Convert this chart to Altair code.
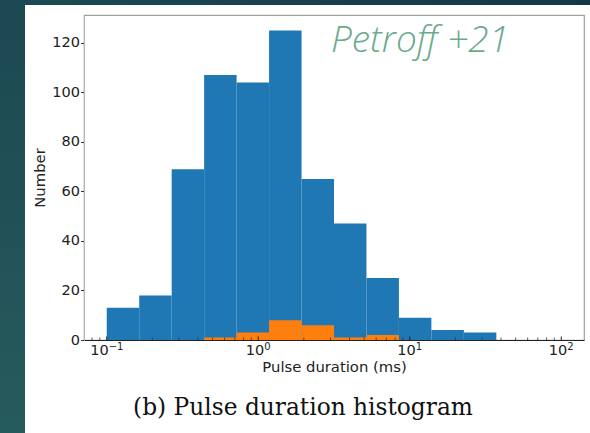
import altair as alt
import pandas as pd

# ---- data ----
edges = [0.1, 0.1638, 0.2683, 0.4394, 0.7197, 1.179, 1.931, 3.162,
         5.179, 8.483, 13.89, 22.76, 37.28, 61.05, 100.0]
blue_counts = [13, 18, 69, 107, 104, 125, 65, 47, 25, 9, 4, 3, 0, 0]
orange_counts = [0, 0, 0, 1, 3, 8, 6, 1, 2, 0, 0, 0, 0, 0]
y_ticks = [0, 20, 40, 60, 80, 100, 120]
major_x = [0.1, 1, 10, 100]
major_exp = ["−1", "0", "1", "2"]
minor_x = [0.08, 0.09,
           0.2, 0.3, 0.4, 0.5, 0.6, 0.7, 0.8, 0.9,
           2, 3, 4, 5, 6, 7, 8, 9,
           20, 30, 40, 50, 60, 70, 80, 90]
title_text = "(b) Pulse duration histogram"
note_text = "Petroff +21"

W, H = 500, 325
LABEL_FONT = "DejaVu Sans"

def bars(counts):
    rows = [{"x0": edges[i], "x1": edges[i + 1], "n": c}
            for i, c in enumerate(counts) if c > 0]
    return pd.DataFrame(rows)

xscale = alt.Scale(type="log", domain=[0.07079, 141.25], nice=False)
yscale = alt.Scale(domain=[0, 131.25], nice=False, zero=True)

x_axis = alt.Axis(values=major_x, labels=False, ticks=False, tickSize=0,
                  grid=False,
                  title="Pulse duration (ms)", titleFont=LABEL_FONT,
                  titleFontSize=14.8, titleFontWeight="normal", titleColor="#222",
                  titlePadding=19, domainColor="#222", domainWidth=1.2, zindex=1)
y_axis = alt.Axis(values=y_ticks, grid=False, tickSize=3.5, tickColor="#333",
                  labelFontSize=14.5, labelPadding=1, labelColor="#222",
                  labelFont=LABEL_FONT,
                  title="Number", titleFont=LABEL_FONT, titleFontSize=14.8,
                  titleFontWeight="normal", titleColor="#222", titlePadding=4,
                  domainColor="#b5b5b5", zindex=1)

blue = alt.Chart(bars(blue_counts)).mark_rect(color="#1f77b4").encode(
    x=alt.X("x0:Q", scale=xscale, axis=x_axis),
    x2="x1:Q",
    y=alt.Y("n:Q", scale=yscale, axis=y_axis),
    y2=alt.datum(0),
)
orange = alt.Chart(bars(orange_counts)).mark_rect(color="#ff7f0e").encode(
    x=alt.X("x0:Q", scale=xscale, axis=x_axis),
    x2="x1:Q",
    y=alt.Y("n:Q", scale=yscale, axis=y_axis),
    y2=alt.datum(0),
)

major_df = pd.DataFrame({"v": major_x, "e": major_exp,
                         "wide": [e.startswith("−") for e in major_exp]})

major_ticks = alt.Chart(major_df).mark_rule(
    color="#222", strokeWidth=1).encode(
    x=alt.X("v:Q", scale=xscale, axis=x_axis),
    y=alt.value(H), y2=alt.value(H - 3.5))
minor_ticks = alt.Chart(pd.DataFrame({"v": minor_x})).mark_rule(
    color="#333", strokeWidth=0.8).encode(
    x=alt.X("v:Q", scale=xscale, axis=x_axis),
    y=alt.value(H), y2=alt.value(H - 2.5))

# tick labels "10" with a superscript exponent, placed through the x scale
def tick_label(wide):
    dx = 2.0 if wide else 6.0
    base = alt.Chart(major_df).transform_filter(
        alt.datum.wide == wide).mark_text(
        font=LABEL_FONT, fontSize=14.5, color="#222", align="right",
        baseline="alphabetic", dx=dx).encode(
        x=alt.X("v:Q", scale=xscale, axis=x_axis),
        y=alt.value(H + 15), text=alt.value("10"))
    exp = alt.Chart(major_df).transform_filter(
        alt.datum.wide == wide).mark_text(
        font=LABEL_FONT, fontSize=10, color="#222", align="left",
        baseline="alphabetic", dx=dx).encode(
        x=alt.X("v:Q", scale=xscale, axis=x_axis),
        y=alt.value(H + 9.5), text="e:N")
    return [base, exp]

one = pd.DataFrame({"t": [title_text]})
title = alt.Chart(one).mark_text(
    font="DejaVu Serif", fontSize=23.3, color="#111",
    align="center", baseline="middle").encode(
    text="t:N", x=alt.value(219), y=alt.value(393))

note = alt.Chart(pd.DataFrame({"t": [note_text]})).mark_text(
    font="Open Sans", fontSize=37, fontStyle="italic", fontWeight=300,
    color="#6aaa8c", align="left", baseline="alphabetic").encode(
    text="t:N", x=alt.value(247), y=alt.value(37))

# slide background strips (decoration)
deco = pd.DataFrame({"k": [0]})
left_strip = alt.Chart(deco).mark_rect(
    color=alt.Gradient(gradient="linear",
                       stops=[alt.GradientStop(color="#1c4851", offset=0),
                              alt.GradientStop(color="#265b5d", offset=1)],
                       x1=0, x2=0, y1=0, y2=1)).encode(
    x=alt.value(-84), x2=alt.value(-59), y=alt.value(-15), y2=alt.value(418))
top_strip = alt.Chart(deco).mark_rect(
    color=alt.Gradient(gradient="linear",
                       stops=[alt.GradientStop(color="#1d4a52", offset=0),
                              alt.GradientStop(color="#143845", offset=1)],
                       x1=0, x2=1, y1=0, y2=0)).encode(
    x=alt.value(-84), x2=alt.value(506), y=alt.value(-15), y2=alt.value(-10))

chart = alt.layer(
    left_strip, top_strip, blue, orange, minor_ticks, major_ticks,
    *tick_label(True), *tick_label(False), note, title
).properties(
    width=W, height=H,
    autosize=alt.AutoSizeParams(type="none"),
    padding={"left": 84, "top": 15, "right": 6, "bottom": 93},
    background="white",
).configure_view(stroke="#a0a0a0", strokeWidth=1.2)

chart.save("out.html", embed_options={"renderer": "svg", "actions": False})
